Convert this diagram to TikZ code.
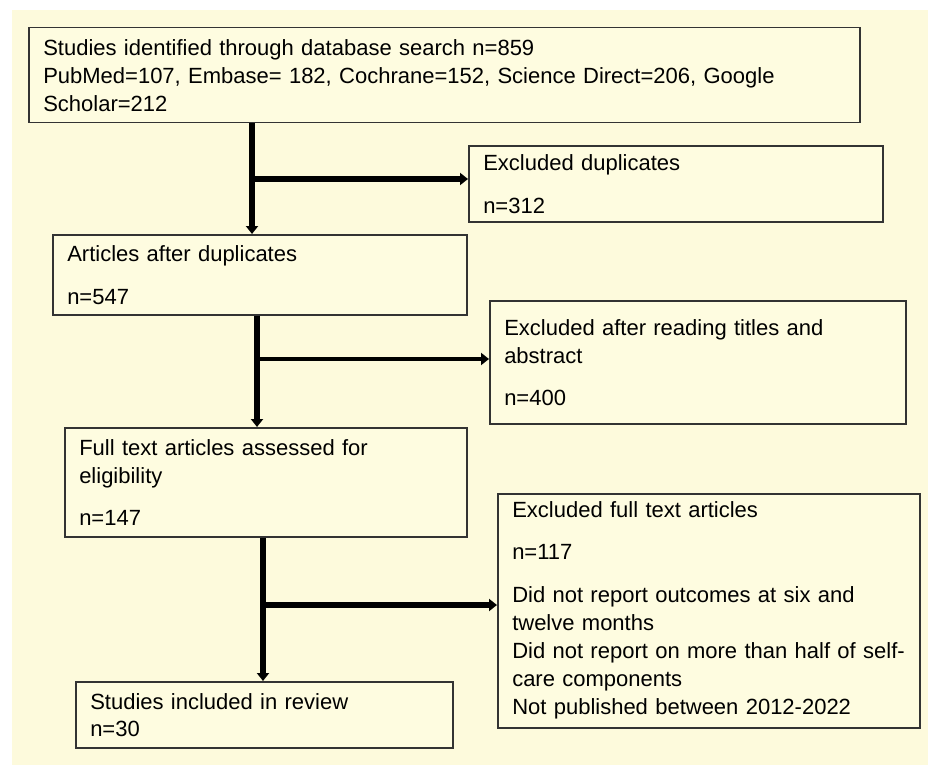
\documentclass[tikz,border=0pt]{standalone}
\usepackage{fontspec}
\setmainfont{Liberation Sans}
\usetikzlibrary{arrows.meta}
\definecolor{bgcream}{HTML}{FDFADC}
\definecolor{boxcream}{HTML}{FEFCE0}
\definecolor{edge}{HTML}{333333}
\tikzset{
  flowbox/.style={draw=edge, line width=1.5pt, fill=boxcream, rectangle,
    anchor=north west, inner xsep=14.5pt, inner ysep=0pt, align=left,
    font=\fontsize{22}{28}\selectfont},
  flowarrow/.style={line width=5.5pt, -{Triangle[width=12pt,length=8pt]}},
  flowline/.style={line width=5.5pt}
}
\newcommand{\boxat}[6]{%
  \node[flowbox, minimum width=#4pt, minimum height=#5pt, text width=#4pt-29pt] (#1) at (#2,#3) {#6};}
\begin{document}
\begin{tikzpicture}[x=1pt,y=-1pt]
\useasboundingbox (0,0) rectangle (928,765);
\fill[white] (0,0) rectangle (928,765);
\fill[bgcream] (12,10) rectangle (928,765);

\boxat{b1}{28}{27}{831}{95}{Studies identified through database search n=859\\
PubMed=107, Embase= 182, Cochrane=152, Science Direct=206, Google\\
Scholar=212}
\boxat{e1}{468}{145}{414}{76}{Excluded duplicates\\[15pt]n=312}
\boxat{b2}{52}{234}{414}{80}{Articles after duplicates\\[15pt]n=547}
\boxat{e2}{489}{300}{416}{123}{Excluded after reading titles and\\abstract\\[14pt]n=400}
\boxat{b3}{64}{427}{402}{109}{Full text articles assessed for\\eligibility\\[14pt]n=147}
\boxat{e3}{497}{493}{422}{234}{Excluded full text articles\\[14pt]n=117\\[15pt]Did not report outcomes at six and\\twelve months\\Did not report on more than half of self-\\care components\\Not published between 2012-2022}
\boxat{b4}{75}{681}{377}{66}{Studies included in review\\[-1pt]n=30}

\coordinate (j1) at (252,179);
\coordinate (j2) at (257,359);
\coordinate (j3) at (263,605);

\draw[flowarrow] (b1.south -| j1) -- (b2.north -| j1);
\draw[flowarrow, line width=6.5pt] (j1) -- (j1 -| e1.west);
\draw[flowarrow] (b2.south -| j2) -- (b3.north -| j2);
\draw[flowarrow, line width=4.5pt] (j2) -- (j2 -| e2.west);
\draw[flowarrow] (b3.south -| j3) -- (b4.north -| j3);
\draw[flowarrow, line width=6.5pt] (j3) -- (j3 -| e3.west);
\end{tikzpicture}
\end{document}
